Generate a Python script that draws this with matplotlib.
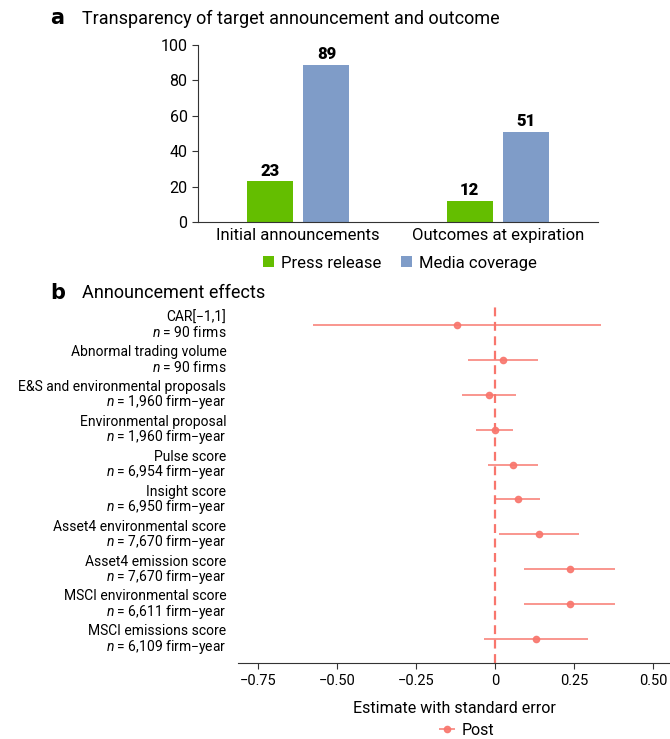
import matplotlib.pyplot as plt
import numpy as np
from matplotlib import transforms

plt.rcParams['font.family'] = ['Roboto', 'DejaVu Sans']
plt.rcParams['mathtext.fontset'] = 'custom'
plt.rcParams['mathtext.it'] = 'Roboto:italic'
plt.rcParams['mathtext.rm'] = 'Roboto'

# panel a data
groups = ['Initial announcements', 'Outcomes at expiration']
press = [23, 12]
media = [89, 51]

# panel b data
outcomes = ['CAR[\u22121,1]', 'Abnormal trading volume', 'E&S and environmental proposals',
            'Environmental proposal', 'Pulse score', 'Insight score',
            'Asset4 environmental score', 'Asset4 emission score',
            'MSCI environmental score', 'MSCI emissions score']
samples = ['90 firms', '90 firms', '1,960 firm\u2212year', '1,960 firm\u2212year',
           '6,954 firm\u2212year', '6,950 firm\u2212year', '7,670 firm\u2212year',
           '7,670 firm\u2212year', '6,611 firm\u2212year', '6,109 firm\u2212year']
estimate = [-0.120, 0.026, -0.018, -0.001, 0.057, 0.074, 0.139, 0.236, 0.237, 0.129]
err = [0.455, 0.111, 0.085, 0.058, 0.079, 0.069, 0.127, 0.145, 0.144, 0.164]

green = '#64BE00'
blue = '#7F9CC8'
red = '#F8766D'

fig = plt.figure(figsize=(6.7, 7.39), dpi=100)

# ---- panel a
ax1 = fig.add_axes([0.2955, 0.6996, 0.597, 0.2394])
x = np.arange(len(groups))
w = 0.23
b1 = ax1.bar(x - 0.142, press, w, color=green)
b2 = ax1.bar(x + 0.142, media, w, color=blue)
for bars in (b1, b2):
    for b in bars:
        ax1.text(b.get_x() + b.get_width() / 2, b.get_height() + 1.5, str(int(b.get_height())),
                 ha='center', va='bottom', fontsize=12, fontweight=900)
ax1.set_xlim(-0.5, 1.5)
ax1.set_ylim(0, 100)
ax1.set_yticks(range(0, 101, 20))
ax1.set_xticks(x)
ax1.set_xticklabels(groups)
ax1.tick_params(axis='x', length=0, labelsize=12, pad=4)
ax1.tick_params(axis='y', length=4, labelsize=11.5, color='#333333', width=0.8)
for s in ['top', 'right']:
    ax1.spines[s].set_visible(False)
for s in ['left', 'bottom']:
    ax1.spines[s].set_color('#333333')
    ax1.spines[s].set_linewidth(0.8)
ax1.legend([b1, b2], ['Press release', 'Media coverage'], loc='upper center',
           bbox_to_anchor=(0.505, -0.105), ncol=2, frameon=False, fontsize=12,
           handlelength=0.65, handleheight=0.65, handletextpad=0.4, columnspacing=1.2)

fig.text(0.075, 0.975, 'a', fontsize=15, fontweight='bold', va='center', family='DejaVu Sans')
fig.text(0.122, 0.975, 'Transparency of target announcement and outcome', fontsize=13, va='center')

# ---- panel b
ax2 = fig.add_axes([0.3552, 0.1028, 0.6448, 0.4885])
ypos = np.arange(len(outcomes), 0, -1)
ax2.axvline(0, color=red, ls=(0, (4, 2.5)), lw=1.6, zorder=1)
ax2.errorbar(estimate, ypos, xerr=err, fmt='o', color=red, ms=4.5, elinewidth=1.2,
             ecolor=red, capsize=0, alpha=0.9, zorder=2, label='Post')
ax2.set_xlim(-0.813, 0.554)
ax2.set_ylim(0.312, 10.659)
ax2.set_yticks([])
lab = transforms.blended_transform_factory(fig.transFigure, ax2.transData)
for yy, o, s in zip(ypos, outcomes, samples):
    fig.text(0.338, yy + 0.22, o, transform=lab, ha='right', va='center', fontsize=10)
    fig.text(0.338, yy - 0.22, '$n$ = ' + s, transform=lab, ha='right', va='center', fontsize=10)
ax2.set_xticks([-0.75, -0.5, -0.25, 0, 0.25, 0.5])
ax2.set_xticklabels(['\u22120.75', '\u22120.50', '\u22120.25', '0', '0.25', '0.50'])
ax2.tick_params(axis='x', length=4, labelsize=10.5, color='#333333', width=0.8, pad=4)
for s in ['top', 'right', 'left']:
    ax2.spines[s].set_visible(False)
ax2.spines['bottom'].set_color('#333333')
ax2.spines['bottom'].set_linewidth(0.8)
ax2.set_xlabel('Estimate with standard error', fontsize=11.5, labelpad=9)
ax2.legend(loc='upper center', bbox_to_anchor=(0.53, -0.135), frameon=False, fontsize=11.5,
           handlelength=1.0, handletextpad=0.4, borderpad=0.2)

fig.text(0.075, 0.604, 'b', fontsize=15, fontweight='bold', va='center', family='DejaVu Sans')
fig.text(0.122, 0.604, 'Announcement effects', fontsize=13, va='center')

fig.savefig('out.png', dpi=100)
